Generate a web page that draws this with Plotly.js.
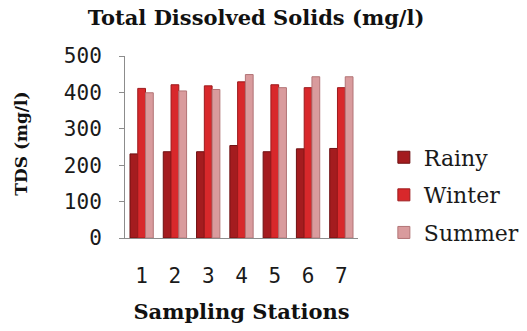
<!DOCTYPE html>
<html>
<head>
<meta charset="utf-8">
<script src="https://cdn.plot.ly/plotly-3.0.1.min.js"></script>
<style>
  html, body { margin: 0; padding: 0; background: #fff; }
  #chart { width: 527px; height: 331px; }
</style>
</head>
<body>
<div id="chart"></div>
<script>
// Sampling stations along the x axis
const stations = ['1', '2', '3', '4', '5', '6', '7'];

// TDS (mg/l) measured in each season
const rainy  = [231, 237, 237, 254, 237, 245, 246];
const winter = [411, 421, 418, 429, 421, 413, 413];
const summer = [399, 404, 408, 449, 413, 443, 443];

const seriesNames = ['Rainy', 'Winter', 'Summer'];
const seriesData = [rainy, winter, summer];
const fills = ['#a41c1f', '#d8282b', '#d99b9d'];
const edges = ['#6e1012', '#9c1a1c', '#b27476'];

const traces = seriesData.map((vals, i) => ({
  type: 'bar',
  name: seriesNames[i],
  legendgroup: seriesNames[i],
  x: stations,
  y: vals,
  marker: { color: fills[i], line: { color: edges[i], width: 1 } },
  hoverinfo: 'x+y+name'
}));

const tickFont = { family: 'DejaVu Sans Mono, monospace', size: 21, color: '#1a1a1a' };
const boldSerif = (size) => ({ family: 'DejaVu Serif, serif', size: size, weight: 'bold', color: '#111' });

const layout = {
  width: 527,
  height: 331,
  margin: { l: 125, r: 169, t: 56, b: 93, autoexpand: false },
  paper_bgcolor: '#ffffff',
  plot_bgcolor: '#ffffff',
  barmode: 'group',
  bargap: 0.3,
  bargroupgap: 0,
  title: {
    text: 'Total Dissolved Solids (mg/l)',
    font: boldSerif(21),
    x: 0.486, xanchor: 'center', xref: 'container',
    y: 0.946, yanchor: 'middle'
  },
  xaxis: {
    type: 'category',
    showgrid: false,
    showline: true,
    linecolor: '#8c8c8c',
    linewidth: 1,
    ticks: '',
    tickfont: tickFont,
    ticklabelstandoff: 19,
    title: { text: 'Sampling Stations', font: boldSerif(21), standoff: 17 },
    zeroline: false
  },
  yaxis: {
    range: [0, 500],
    dtick: 100,
    showgrid: false,
    showline: true,
    linecolor: '#8c8c8c',
    linewidth: 1,
    ticks: 'outside',
    ticklen: 5,
    tickcolor: '#8c8c8c',
    tickfont: tickFont,
    ticklabelstandoff: 13,
    zeroline: false
  },
  legend: {
    x: 1.111, xanchor: 'left',
    y: 0.558, yanchor: 'top',
    traceorder: 'grouped',
    tracegroupgap: 6,
    font: { family: 'DejaVu Serif, serif', size: 22, color: '#1a1a1a' },
    bgcolor: 'rgba(0,0,0,0)'
  },
  annotations: [{
    text: 'TDS (mg/l)',
    xref: 'paper', yref: 'paper',
    x: -0.444, y: 0.516,
    xanchor: 'center', yanchor: 'middle',
    textangle: -90,
    showarrow: false,
    font: boldSerif(17)
  }],
  showlegend: true
};

Plotly.newPlot('chart', traces, layout, { displayModeBar: false, staticPlot: true });
</script>
</body>
</html>
